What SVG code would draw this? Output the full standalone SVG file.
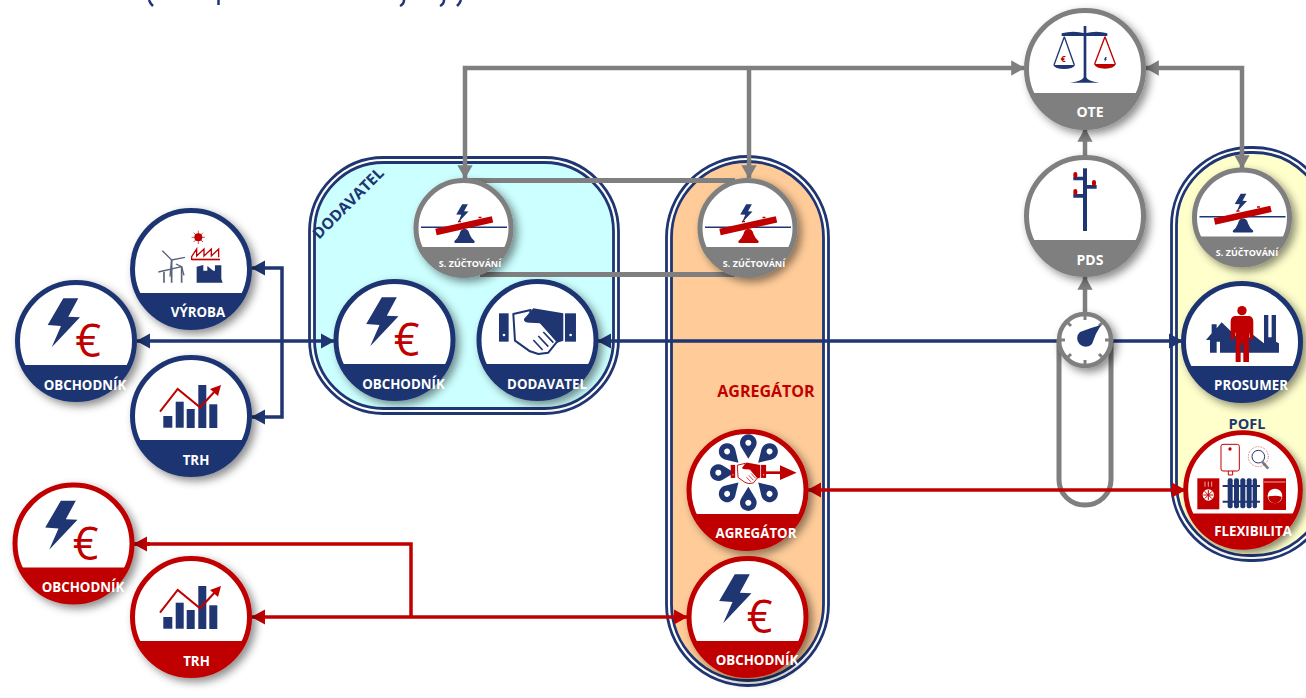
<svg xmlns="http://www.w3.org/2000/svg" width="1306" height="698" viewBox="0 0 1306 698">
<style>
text{font-family:"Open Sans","Liberation Sans",sans-serif;font-weight:700;text-anchor:middle}
.lb{fill:#fff;font-size:13.300px}
.ls{fill:#fff;font-size:9px}
.navy{color:#1f3672}.red{color:#c00000}.gray{color:#7f7f7f}
.c{fill:none;stroke-linejoin:miter}
.cn{stroke:#1f3672;stroke-width:3.500}
.cr{stroke:#c00000;stroke-width:3.500}
.cg{stroke:#7f7f7f;stroke-width:4.500}
.nv{fill:#1f3672}.rd{fill:#c00000}
.eu{fill:#c00000;font-weight:400;font-size:45px}
.grp{stroke:#1f3672;stroke-width:2.800}
</style>
<defs>
<filter id="sh" x="-30%" y="-30%" width="170%" height="170%"><feDropShadow dx="4" dy="4" stdDeviation="4" flood-color="#000" flood-opacity=".45"/></filter>
<marker id="an" markerWidth="4" markerHeight="4.400" refX="3.800" refY="2.200" orient="auto-start-reverse" markerUnits="strokeWidth"><path d="M0 0L4 2.200L0 4.400Z" fill="#1f3672"/></marker>
<marker id="ar" markerWidth="4" markerHeight="4.400" refX="3.800" refY="2.200" orient="auto-start-reverse" markerUnits="strokeWidth"><path d="M0 0L4 2.200L0 4.400Z" fill="#c00000"/></marker>
<marker id="ag" markerWidth="3" markerHeight="3.400" refX="2.850" refY="1.700" orient="auto-start-reverse" markerUnits="strokeWidth"><path d="M0 0L3 1.700L0 3.400Z" fill="#7f7f7f"/></marker>
<g id="big"><circle r="58.500" fill="#fff" stroke="currentColor" stroke-width="5"/><path d="M-53.400 24A58.500 58.500 0 0 0 53.400 24Z" fill="currentColor"/></g>
<g id="small"><circle r="47.500" fill="#fff" stroke="currentColor" stroke-width="5"/><path d="M-43.500 19A47.500 47.500 0 0 0 43.500 19Z" fill="currentColor"/></g>
<path id="bolt" d="M-12.700-42.700H2.300L-7.700-24.300L4-23.700L-24.300 6.300L-15-15L-28.300-16Z" fill="#1f3672"/>
<g id="chart">
<rect x="-27.700" y="0" width="9" height="11.700" class="nv"/><rect x="-15.300" y="-14.300" width="8" height="26" class="nv"/><rect x="-4.300" y="-7" width="8" height="19" class="nv"/><rect x="7.300" y="-31" width="8" height="43" class="nv"/><rect x="18.300" y="-11.700" width="8" height="23.700" class="nv"/>
<path d="M-31-4.300L-13.300-27L9-8.700L26-27" fill="none" stroke="#c00000" stroke-width="2"/><path d="M30-31L27-20L19-27Z" class="rd"/>
</g>
<g id="seesaw">
<path d="M-42.500-.7H43.500" stroke="#1f3672" stroke-width="1.600"/>
<path d="M1 1Q-3 1-4 6Q-6 11-9 13Q-10 15-7 15H9Q12 15 11 13Q8 11 6 6Q5 1 1 1Z" fill="currentColor"/>
<path d="M-27.500 4L29-8.700" stroke="#c00000" stroke-width="6.500"/>
<use href="#bolt" transform="translate(3.500,-7.500) scale(.38)"/>
<path d="M-5.500-6.500h3M15-10.500h3" stroke="#c00000" stroke-width="1.500"/>
</g>
<g id="hands" fill="currentColor">
<rect x="597" y="490" width="29" height="85"/><rect x="795" y="490" width="33" height="85"/>
<circle cx="612" cy="555" r="4" fill="#fff"/><circle cx="812" cy="555" r="4" fill="#fff"/>
<path d="M640 492L692 480L690 500L722 518L772 574L745 608L715 612L690 604L645 572Z" fill="#fff" stroke="currentColor" stroke-width="6" stroke-linejoin="round"/>
<path d="M672 507L700 475L790 490V572L772 578L725 520L690 518Q670 518 672 507Z"/>
<path d="M700 570L728 600M715 558L745 590M730 546L760 578" stroke="currentColor" stroke-width="5"/>
</g>
<path id="pin" d="M0 0L-22-36A25 25 0 1 1 22-36Z M0-57A9 9 0 1 0 .01-57Z" fill="#1f3672" fill-rule="evenodd"/>
</defs>
<rect width="1306" height="698" fill="#fff"/>

<g id="header" fill="none" stroke="#1f3672" stroke-width="2.500"><path d="M149 0Q150 3 153 6"/><path d="M218.500 0V5"/><path d="M404 0Q404 4 400 6"/><path d="M444 0Q444 4 440 6"/><path d="M461 0Q460 3 457 6"/></g>

<g id="group-dodavatel">
<rect x="309.500" y="157.500" width="309" height="256" rx="74" fill="#fff" class="grp"/>
<rect x="314.500" y="162.500" width="299" height="246" rx="69" fill="#ccffff" class="grp"/>
<text x="352" y="207" transform="rotate(-45 352 207)" font-size="15.500" fill="#1f3672">DODAVATEL</text>
</g>
<g id="group-agregator">
<rect x="666.500" y="156.500" width="162" height="529" rx="81" fill="#fff" class="grp"/>
<rect x="671.500" y="161.500" width="152" height="519" rx="76" fill="#ffcc99" class="grp"/>
<text x="766" y="397" font-size="16" fill="#c00000">AGREGÁTOR</text>
</g>
<g id="group-pofl">
<rect x="1171.500" y="147.500" width="160" height="413" rx="78" fill="#fff" class="grp"/>
<rect x="1176.500" y="152.500" width="150" height="403" rx="73" fill="#ffffcc" class="grp"/>
<text x="1247" y="429" font-size="14.500" fill="#1f3672">POFL</text>
</g>

<g id="connectors">
<path class="c cn" d="M137 341H334" marker-start="url(#an)" marker-end="url(#an)"/>
<path class="c cn" d="M252 268H282V417H252" marker-start="url(#an)" marker-end="url(#an)"/>
<path class="c cn" d="M1057 341H598" marker-end="url(#an)"/>
<path class="c cn" d="M1113 341H1182" marker-end="url(#an)"/>
<path class="c cg" d="M465 178V68H1024" marker-start="url(#ag)" marker-end="url(#ag)"/>
<path class="c cg" d="M749 68V178" marker-end="url(#ag)"/>
<path class="c cg" style="stroke-width:5" d="M465 180.500H735M480 274.500H735"/>
<path class="c cg" d="M1146 68H1242V168" marker-start="url(#ag)" marker-end="url(#ag)"/>
<path class="c cg" d="M1085 157V129" marker-end="url(#ag)"/>
<path class="c cg" d="M1085 314V277" marker-end="url(#ag)"/>
<path class="c cg" style="stroke-width:5" d="M1059 340V480A26 25 0 0 0 1085 505A26 25 0 0 0 1111 480V340"/>
<path class="c cr" d="M808 490H1185" marker-start="url(#ar)" marker-end="url(#ar)"/>
<path class="c cr" d="M134 544H411V617"/>
<path class="c cr" d="M134 544H150" marker-start="url(#ar)"/>
<path class="c cr" d="M252 617H687" marker-start="url(#ar)" marker-end="url(#ar)"/>
</g>

<g id="node-vyroba" class="navy" transform="translate(191,269)"><use href="#big" filter="url(#sh)"/>
<g transform="translate(-191,-69) scale(.3333)">
<circle cx="595" cy="112" r="12" class="rd"/><path d="M595 92V132M575 112H615M581 98L609 126M609 98L581 126" stroke="#c00000" stroke-width="2"/>
<path d="M575 180V170L590 147V168L612 147V168L634 147V168L656 147V172" fill="none" stroke="#c00000" stroke-width="4"/><rect x="575" y="176" width="85" height="5" class="rd"/>
<path d="M590 248V200L610 195V212H622V198L640 212H645V196H664V236L668 248Z" class="nv"/>
<path d="M515 248V180M545 248V200M492 248V215" stroke="#59627a" stroke-width="5" fill="none"/>
<path d="M487 152L515 180L555 172M515 180L510 230M475 216L545 200M528 192L545 200L552 226" stroke="#59627a" stroke-width="4" fill="none"/>
</g>
<text class="lb" x="7" y="48">VÝROBA</text></g>

<g id="node-obchodnik-1" class="navy" transform="translate(76,341)"><use href="#big" filter="url(#sh)"/><use href="#bolt"/><text class="eu" x="12" y="16">€</text><text class="lb" x="9" y="49">OBCHODNÍK</text></g>
<g id="node-trh-1" class="navy" transform="translate(191,416)"><use href="#big" filter="url(#sh)"/><use href="#chart"/><text class="lb" x="5" y="49">TRH</text></g>

<g id="node-szuct-1" class="gray" transform="translate(463.500,228)"><use href="#small" filter="url(#sh)"/><g class="navy"><use href="#seesaw"/></g><text class="ls" x="6.500" y="39">S. ZÚČTOVÁNÍ</text></g>
<g id="node-obchodnik-2" class="navy" transform="translate(394.500,340)"><use href="#big" filter="url(#sh)"/><use href="#bolt"/><text class="eu" x="12" y="16">€</text><text class="lb" x="9" y="49">OBCHODNÍK</text></g>
<g id="node-dodavatel" class="navy" transform="translate(537.500,340)"><use href="#big" filter="url(#sh)"/><use href="#hands" transform="translate(-237.500,-190) scale(.3333)"/><text class="lb" x="9.500" y="49">DODAVATEL</text></g>

<g id="node-szuct-2" class="gray" transform="translate(747.500,228)"><use href="#small" filter="url(#sh)"/><g class="red"><use href="#seesaw"/></g><text class="ls" x="6.500" y="39">S. ZÚČTOVÁNÍ</text></g>
<g id="node-agregator" class="red" transform="translate(747.500,490)"><use href="#big" filter="url(#sh)"/>
<g transform="translate(-77.500,-70) scale(.3333)">
<g transform="translate(235,158)"><use href="#pin" transform="translate(0,-42)"/><use href="#pin" transform="rotate(45) translate(0,-42)"/><use href="#pin" transform="rotate(135) translate(0,-42)"/><use href="#pin" transform="rotate(180) translate(0,-42)"/><use href="#pin" transform="rotate(225) translate(0,-42)"/><use href="#pin" transform="rotate(270) translate(0,-42)"/><use href="#pin" transform="rotate(315) translate(0,-42)"/></g>
<use href="#hands" transform="translate(-92.500,-90.700) scale(.46)"/>
<path d="M285 158H340" stroke="#c00000" stroke-width="8"/><path d="M330 136L380 158L330 180Z" class="rd"/>
</g>
<text class="lb" x="8.500" y="48">AGREGÁTOR</text></g>
<g id="node-obchodnik-4" class="red" transform="translate(747.500,617)"><use href="#big" filter="url(#sh)"/><use href="#bolt"/><text class="eu" x="12" y="16">€</text><text class="lb" x="9.500" y="48">OBCHODNÍK</text></g>

<g id="node-ote" class="gray" transform="translate(1085,69)"><use href="#big" filter="url(#sh)"/>
<g transform="translate(-75,-69) scale(.3333)">
<path d="M221 78H229V232Q232 244 268 248H180Q218 244 221 232Z" class="nv"/>
<path d="M155 100Q190 90 225 100Q260 90 292 100V108H155Z" class="nv"/>
<path d="M163 110L132 195M163 110L193 195" stroke="#1f3672" stroke-width="4"/><path d="M130 195H195Q190 207 162 207Q135 207 130 195Z" class="nv"/>
<path d="M285 110L254 192M285 110L316 192" stroke="#c00000" stroke-width="4"/><path d="M252 192H318Q312 206 285 206Q258 206 252 192Z" class="rd"/>
<text x="160" y="186" style="fill:#c00000;font-size:26px">€</text>
<use href="#bolt" transform="translate(290,184) scale(.3)"/>
</g>
<text class="lb" x="5" y="48" style="font-size:14px">OTE</text></g>
<g id="node-pds" class="gray" transform="translate(1085,216)"><use href="#big" filter="url(#sh)"/>
<g transform="translate(-75,-216) scale(.3333)">
<path d="M219 505H231V693H219Z" class="nv"/><path d="M190 530H225V541H190ZM190 582H225V593H190ZM225 555H260V566H225Z" class="nv"/>
<rect x="190" y="516" width="12" height="18" rx="6" class="rd"/><rect x="190" y="567" width="12" height="18" rx="6" class="rd"/><rect x="246" y="540" width="12" height="18" rx="6" class="rd"/>
</g>
<text class="lb" x="5" y="49" style="font-size:14px">PDS</text></g>
<g id="node-meter" class="gray" transform="translate(1085,340)">
<circle r="26" fill="#fff" stroke="#7f7f7f" stroke-width="4.500" filter="url(#sh)"/>
<path d="M0-26V-20M0 26V20M-26 0H-20M26 0H20M-18-18L-14-14M18-18L14-14M-18 18L-14 14M18 18L14 14" stroke="#7f7f7f" stroke-width="3"/>
<path d="M16-15Q5-12-5-8A8.500 8.500 0 1 0 7 4Q10-6 16-15Z" class="nv"/></g>

<g id="node-szuct-3" class="gray" transform="translate(1242,217.500)"><use href="#small" filter="url(#sh)"/><g class="navy"><use href="#seesaw"/></g><text class="ls" x="5" y="38.500">S. ZÚČTOVÁNÍ</text></g>
<g id="node-prosumer" class="navy" transform="translate(1242,342)"><use href="#big" filter="url(#sh)"/>
<g transform="translate(-202,-62) scale(.3333)">
<path d="M498 180L515 160V133H530V145L545 127L590 170V218H540V185H530V218H510V180Z" class="nv"/>
<path d="M600 218V190L640 165L672 190V105H685V172H695V105H708V185L717 190V218Z" class="nv"/>
<circle cx="606" cy="92" r="14" class="rd"/><path d="M585 108H627Q640 110 640 125V178H630L627 155V246H610V190H602V246H587V155L582 178H572V125Q572 110 585 108Z" class="rd"/>
</g>
<text class="lb" x="9" y="48">PROSUMER</text></g>
<g id="node-flexibilita" class="red" transform="translate(1243,490)"><use href="#big" filter="url(#sh)" transform="scale(.98)"/>
<g transform="translate(-83,-90) scale(.3333)">
<rect x="183" y="133" width="55" height="80" rx="6" fill="#fff" stroke="#c00000" stroke-width="3"/><circle cx="210" cy="147" r="5" class="rd"/><path d="M205 213V225H218V213" fill="none" stroke="#c00000" stroke-width="3"/>
<circle cx="295" cy="170" r="19" fill="#fff" stroke="#1f3672" stroke-width="3"/><path d="M307 186L325 206" stroke="#7f7f7f" stroke-width="8"/><circle cx="295" cy="170" r="30" fill="none" stroke="#c00000" stroke-width="3" stroke-dasharray="2 3" opacity=".7"/>
<rect x="112" y="235" width="66" height="93" class="rd"/><circle cx="145" cy="285" r="17" fill="#fff"/><path d="M145 270V300M130 285H160M134 274L156 296M156 274L134 296" stroke="#c00000" stroke-width="3"/><path d="M135 245V260M145 245V260M155 245V260" stroke="#fff" stroke-width="2"/>
<rect x="203" y="235" width="15" height="90" rx="6" class="nv"/><rect x="222" y="235" width="15" height="90" rx="6" class="nv"/><rect x="241" y="235" width="15" height="90" rx="6" class="nv"/><rect x="260" y="235" width="15" height="90" rx="6" class="nv"/><rect x="278" y="235" width="13" height="90" rx="6" class="nv"/><path d="M188 258H300M188 305H300" stroke="#1f3672" stroke-width="6"/>
<rect x="310" y="235" width="68" height="95" class="rd"/><path d="M312 246H376" stroke="#fff" stroke-width="2"/><circle cx="345" cy="288" r="22" fill="#fff"/><path d="M325 290Q345 284 365 290A20 20 0 0 1 325 290Z" class="rd"/>
</g>
<text class="lb" x="10" y="46">FLEXIBILITA</text></g>

<g id="node-obchodnik-3" class="red" transform="translate(73.500,543.500)"><use href="#big" filter="url(#sh)"/><use href="#bolt"/><text class="eu" x="12" y="16">€</text><text class="lb" x="9.500" y="48">OBCHODNÍK</text></g>
<g id="node-trh-2" class="red" transform="translate(191,617)"><use href="#big" filter="url(#sh)"/><use href="#chart"/><text class="lb" x="5.500" y="49">TRH</text></g>
</svg>
